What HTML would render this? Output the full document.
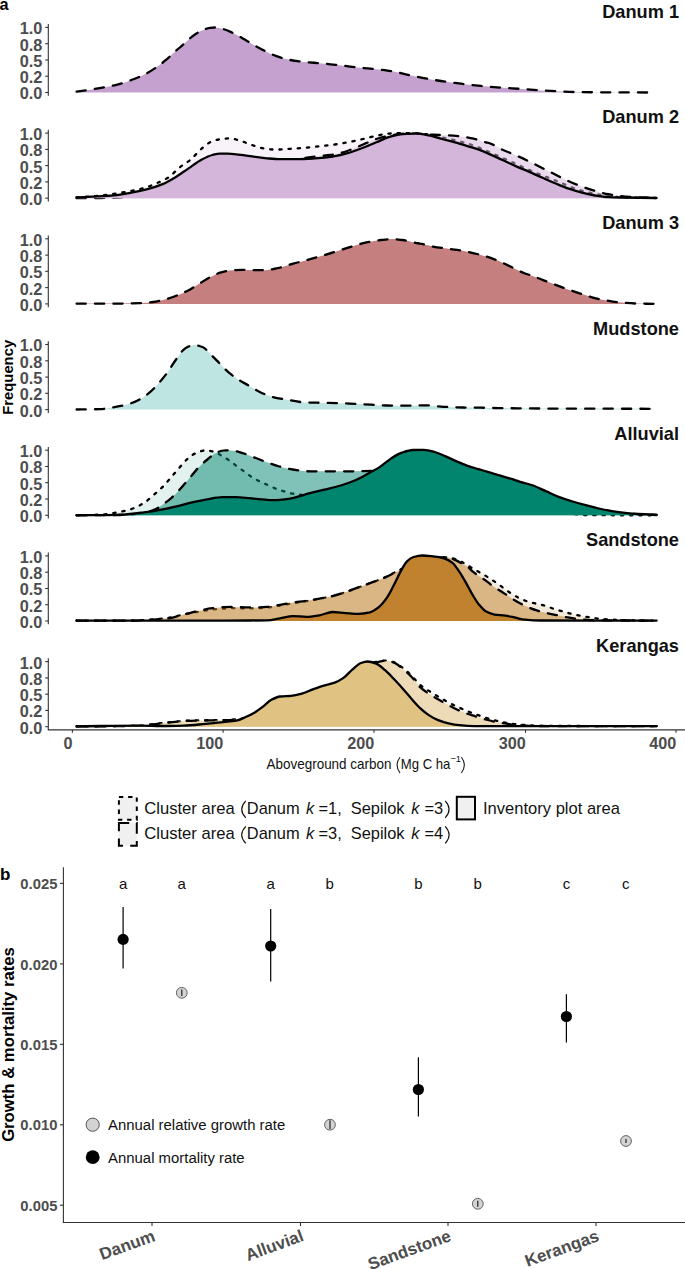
<!DOCTYPE html>
<html><head><meta charset="utf-8"><title>Figure</title><style>
*{margin:0;padding:0}
html,body{width:685px;height:1269px;background:#fff;overflow:hidden}
svg{display:block}
text{font-family:"Liberation Sans",sans-serif}
.yl{font-size:16.3px;font-weight:bold;fill:#4d4d4d;text-anchor:end}
.pt{font-size:18.2px;font-weight:bold;fill:#111;text-anchor:end}
.xl{font-size:16.2px;font-weight:bold;fill:#4d4d4d;text-anchor:end}
.xt{font-size:14.1px;fill:#111}
.sup{font-size:9.4px;fill:#111}
.ft{font-size:14.8px;font-weight:bold;fill:#000;text-anchor:middle}
.lab{font-size:17px;font-weight:bold;fill:#000}
.lg{font-size:16.4px;fill:#111}
.yb{font-size:14.8px;font-weight:bold;fill:#4d4d4d;text-anchor:end}
.gt{font-size:16.7px;font-weight:bold;fill:#000;text-anchor:middle}
.cx{font-size:17px;font-weight:bold;fill:#4d4d4d;text-anchor:end}
.le{font-size:15px;fill:#111;text-anchor:middle}
.lb{font-size:14.9px;fill:#111}
</style></head>
<body><svg width="685" height="1269" viewBox="0 0 685 1269">
<rect width="685" height="1269" fill="#fff"/>
<line x1="48.3" y1="24.1" x2="48.3" y2="95.8" stroke="#333" stroke-width="1.1"/>
<line x1="45.2" y1="92.5" x2="48.3" y2="92.5" stroke="#333" stroke-width="1.1"/>
<text x="42.3" y="99.4" class="yl">0.0</text>
<line x1="45.2" y1="76.2" x2="48.3" y2="76.2" stroke="#333" stroke-width="1.1"/>
<text x="42.3" y="83.1" class="yl">0.2</text>
<line x1="45.2" y1="60.0" x2="48.3" y2="60.0" stroke="#333" stroke-width="1.1"/>
<text x="42.3" y="66.9" class="yl">0.5</text>
<line x1="45.2" y1="43.7" x2="48.3" y2="43.7" stroke="#333" stroke-width="1.1"/>
<text x="42.3" y="50.6" class="yl">0.8</text>
<line x1="45.2" y1="27.4" x2="48.3" y2="27.4" stroke="#333" stroke-width="1.1"/>
<text x="42.3" y="34.3" class="yl">1.0</text>
<text x="679" y="17.5" class="pt">Danum 1</text>
<path d="M76.6 91.6C81.7 90.9 86.8 90.2 91.9 89.4C96.3 88.7 100.6 88.0 105.0 87.2C109.4 86.4 113.8 85.5 118.2 84.4C122.6 83.3 126.9 81.6 131.3 80.0C135.7 78.4 140.0 76.7 144.4 74.6C148.1 72.8 151.7 70.5 155.4 68.0C159.0 65.6 162.7 62.7 166.3 59.7C169.2 57.2 172.2 54.2 175.1 51.6C178.0 49.0 181.0 46.5 183.9 43.9C186.8 41.3 189.7 38.3 192.6 36.2C195.5 34.1 198.5 32.1 201.4 30.8C204.3 29.5 207.2 28.2 210.1 27.9C211.9 27.7 213.7 27.5 215.5 27.5C218.0 27.5 220.6 28.3 223.1 29.0C226.0 29.8 229.0 31.2 231.9 32.5C235.5 34.2 239.2 36.3 242.8 38.4C246.5 40.5 250.1 42.9 253.8 45.0C257.4 47.1 261.1 49.1 264.7 50.9C268.4 52.7 272.0 54.6 275.7 55.9C279.3 57.2 283.0 58.4 286.6 59.2C290.3 60.0 293.9 60.7 297.6 61.2C301.2 61.7 304.9 62.0 308.5 62.3C312.2 62.6 315.8 62.9 319.5 63.2C323.1 63.5 326.8 63.9 330.4 64.3C334.1 64.7 337.7 65.0 341.4 65.4C345.0 65.8 348.7 66.5 352.3 66.9C357.4 67.5 362.4 67.9 367.5 68.4C373.3 69.0 379.2 69.5 385.0 70.2C387.9 70.6 390.9 71.0 393.8 71.5C398.2 72.3 402.5 73.6 406.9 74.6C412.0 75.7 417.2 76.8 422.3 77.8C427.4 78.8 432.5 79.7 437.6 80.5C443.4 81.4 449.3 82.1 455.1 82.9C460.9 83.7 466.8 84.5 472.6 85.1C478.4 85.7 484.3 86.3 490.1 86.8C497.4 87.4 504.6 87.8 511.9 88.3C519.2 88.8 526.5 89.4 533.8 89.9C541.1 90.4 548.4 90.8 555.7 91.2C563.0 91.6 570.3 92.0 577.6 92.1C584.9 92.2 592.2 92.3 599.5 92.3C616.0 92.4 632.5 92.4 649.0 92.5L649.0 92.5L76.6 92.5Z" fill="#c4a1cf"/>
<path d="M76.6 91.6C81.7 90.9 86.8 90.2 91.9 89.4C96.3 88.7 100.6 88.0 105.0 87.2C109.4 86.4 113.8 85.5 118.2 84.4C122.6 83.3 126.9 81.6 131.3 80.0C135.7 78.4 140.0 76.7 144.4 74.6C148.1 72.8 151.7 70.5 155.4 68.0C159.0 65.6 162.7 62.7 166.3 59.7C169.2 57.2 172.2 54.2 175.1 51.6C178.0 49.0 181.0 46.5 183.9 43.9C186.8 41.3 189.7 38.3 192.6 36.2C195.5 34.1 198.5 32.1 201.4 30.8C204.3 29.5 207.2 28.2 210.1 27.9C211.9 27.7 213.7 27.5 215.5 27.5C218.0 27.5 220.6 28.3 223.1 29.0C226.0 29.8 229.0 31.2 231.9 32.5C235.5 34.2 239.2 36.3 242.8 38.4C246.5 40.5 250.1 42.9 253.8 45.0C257.4 47.1 261.1 49.1 264.7 50.9C268.4 52.7 272.0 54.6 275.7 55.9C279.3 57.2 283.0 58.4 286.6 59.2C290.3 60.0 293.9 60.7 297.6 61.2C301.2 61.7 304.9 62.0 308.5 62.3C312.2 62.6 315.8 62.9 319.5 63.2C323.1 63.5 326.8 63.9 330.4 64.3C334.1 64.7 337.7 65.0 341.4 65.4C345.0 65.8 348.7 66.5 352.3 66.9C357.4 67.5 362.4 67.9 367.5 68.4C373.3 69.0 379.2 69.5 385.0 70.2C387.9 70.6 390.9 71.0 393.8 71.5C398.2 72.3 402.5 73.6 406.9 74.6C412.0 75.7 417.2 76.8 422.3 77.8C427.4 78.8 432.5 79.7 437.6 80.5C443.4 81.4 449.3 82.1 455.1 82.9C460.9 83.7 466.8 84.5 472.6 85.1C478.4 85.7 484.3 86.3 490.1 86.8C497.4 87.4 504.6 87.8 511.9 88.3C519.2 88.8 526.5 89.4 533.8 89.9C541.1 90.4 548.4 90.8 555.7 91.2C563.0 91.6 570.3 92.0 577.6 92.1C584.9 92.2 592.2 92.3 599.5 92.3C616.0 92.4 632.5 92.4 649.0 92.5" fill="none" stroke="#000" stroke-width="2.3" stroke-linejoin="round" stroke-dasharray="9.2 9.2" stroke-linecap="round"/>
<line x1="48.3" y1="129.8" x2="48.3" y2="201.5" stroke="#333" stroke-width="1.1"/>
<line x1="45.2" y1="198.2" x2="48.3" y2="198.2" stroke="#333" stroke-width="1.1"/>
<text x="42.3" y="205.1" class="yl">0.0</text>
<line x1="45.2" y1="181.9" x2="48.3" y2="181.9" stroke="#333" stroke-width="1.1"/>
<text x="42.3" y="188.8" class="yl">0.2</text>
<line x1="45.2" y1="165.6" x2="48.3" y2="165.6" stroke="#333" stroke-width="1.1"/>
<text x="42.3" y="172.5" class="yl">0.5</text>
<line x1="45.2" y1="149.4" x2="48.3" y2="149.4" stroke="#333" stroke-width="1.1"/>
<text x="42.3" y="156.3" class="yl">0.8</text>
<line x1="45.2" y1="133.1" x2="48.3" y2="133.1" stroke="#333" stroke-width="1.1"/>
<text x="42.3" y="140.0" class="yl">1.0</text>
<text x="679" y="123.2" class="pt">Danum 2</text>
<path d="M76.6 197.5C81.7 197.1 86.8 196.9 91.9 196.4C99.2 195.8 106.5 194.8 113.8 193.8C119.6 193.0 125.5 192.0 131.3 190.9C135.7 190.1 140.0 189.2 144.4 187.9C148.8 186.6 153.2 184.7 157.6 182.8C161.2 181.2 164.9 179.7 168.5 177.4C172.2 175.1 175.8 170.4 179.5 167.5C183.1 164.6 186.8 162.8 190.4 159.8C194.1 156.8 197.7 152.0 201.4 148.9C204.3 146.4 207.2 143.6 210.1 142.3C213.0 141.0 215.9 140.0 218.8 139.5C222.1 139.0 225.3 138.4 228.6 138.4C231.9 138.4 235.2 139.3 238.5 140.1C242.1 140.9 245.8 142.9 249.4 144.1C253.8 145.6 258.2 147.5 262.6 148.2C267.0 148.9 271.3 149.6 275.7 149.6C280.1 149.6 284.4 149.2 288.8 148.9C293.9 148.6 299.1 148.2 304.2 147.8C309.3 147.4 314.4 146.8 319.5 146.3C324.6 145.8 329.7 145.2 334.8 144.5C339.2 143.9 343.6 143.1 348.0 142.3C353.0 141.4 358.1 140.2 363.1 139.0C367.5 138.0 371.9 136.7 376.3 135.8C380.7 134.9 385.0 133.9 389.4 133.6C393.1 133.3 396.7 133.1 400.4 133.1C405.3 133.1 410.1 133.2 415.0 133.3C420.0 133.4 425.0 134.1 430.0 134.8C435.0 135.5 440.0 136.9 445.0 138.0C450.0 139.1 455.0 140.2 460.0 141.5C465.0 142.8 470.0 144.2 475.0 146.0C480.0 147.8 485.1 150.2 490.1 152.4C497.4 155.5 504.6 158.8 511.9 162.0C519.2 165.3 526.5 168.8 533.8 171.9C541.1 175.0 548.4 177.7 555.7 180.6C563.0 183.5 570.3 187.2 577.6 189.4C583.4 191.2 589.3 192.7 595.1 193.8C600.9 194.9 606.8 196.1 612.6 196.6C618.4 197.1 624.2 197.5 630.0 197.6C638.9 197.8 647.7 197.9 656.6 198.0L656.6 198.2L76.6 198.2Z" fill="#d4b6db" fill-opacity="0.17"/>
<path d="M76.6 197.5C81.7 197.1 86.8 196.9 91.9 196.4C99.2 195.8 106.5 194.8 113.8 193.8C119.6 193.0 125.5 192.0 131.3 190.9C135.7 190.1 140.0 189.2 144.4 187.9C148.8 186.6 153.2 184.7 157.6 182.8C161.2 181.2 164.9 179.7 168.5 177.4C172.2 175.1 175.8 170.4 179.5 167.5C183.1 164.6 186.8 162.8 190.4 159.8C194.1 156.8 197.7 152.0 201.4 148.9C204.3 146.4 207.2 143.6 210.1 142.3C213.0 141.0 215.9 140.0 218.8 139.5C222.1 139.0 225.3 138.4 228.6 138.4C231.9 138.4 235.2 139.3 238.5 140.1C242.1 140.9 245.8 142.9 249.4 144.1C253.8 145.6 258.2 147.5 262.6 148.2C267.0 148.9 271.3 149.6 275.7 149.6C280.1 149.6 284.4 149.2 288.8 148.9C293.9 148.6 299.1 148.2 304.2 147.8C309.3 147.4 314.4 146.8 319.5 146.3C324.6 145.8 329.7 145.2 334.8 144.5C339.2 143.9 343.6 143.1 348.0 142.3C353.0 141.4 358.1 140.2 363.1 139.0C367.5 138.0 371.9 136.7 376.3 135.8C380.7 134.9 385.0 133.9 389.4 133.6C393.1 133.3 396.7 133.1 400.4 133.1C405.3 133.1 410.1 133.2 415.0 133.3C420.0 133.4 425.0 134.1 430.0 134.8C435.0 135.5 440.0 136.9 445.0 138.0C450.0 139.1 455.0 140.2 460.0 141.5C465.0 142.8 470.0 144.2 475.0 146.0C480.0 147.8 485.1 150.2 490.1 152.4C497.4 155.5 504.6 158.8 511.9 162.0C519.2 165.3 526.5 168.8 533.8 171.9C541.1 175.0 548.4 177.7 555.7 180.6C563.0 183.5 570.3 187.2 577.6 189.4C583.4 191.2 589.3 192.7 595.1 193.8C600.9 194.9 606.8 196.1 612.6 196.6C618.4 197.1 624.2 197.5 630.0 197.6C638.9 197.8 647.7 197.9 656.6 198.0" fill="none" stroke="#000" stroke-width="2.3" stroke-linejoin="round" stroke-dasharray="2.3 6.9" stroke-linecap="round"/>
<path d="M76.6 198.2C84.4 198.1 92.2 198.1 100.0 198.0C106.7 197.9 113.3 197.7 120.0 197.3C124.5 197.1 129.0 196.7 133.5 196.0C137.9 195.3 142.2 192.9 146.6 191.4C151.7 189.7 156.9 188.5 162.0 186.4C166.4 184.6 170.7 182.0 175.1 179.4C179.5 176.8 183.8 173.5 188.2 170.6C192.6 167.7 197.0 164.1 201.4 161.8C205.0 159.9 208.7 157.5 212.3 157.0C217.4 156.2 222.4 155.7 227.5 155.7C231.2 155.7 234.8 156.2 238.5 156.6C243.6 157.1 248.7 157.9 253.8 158.6C258.2 159.2 262.5 160.0 266.9 160.3C271.3 160.6 275.7 161.0 280.1 161.0C284.5 161.0 288.8 160.1 293.2 159.6C296.1 159.2 299.1 158.7 302.0 158.3C306.4 157.7 310.7 157.1 315.1 156.6C320.2 156.0 325.3 155.7 330.4 155.0C334.1 154.5 337.7 153.7 341.4 152.8C344.3 152.1 347.1 151.0 350.0 150.0C354.4 148.4 358.7 146.3 363.1 144.5C367.5 142.7 371.9 140.4 376.3 139.0C380.7 137.7 385.0 136.6 389.4 135.8C393.8 135.0 398.2 134.2 402.6 134.0C407.0 133.8 411.3 133.6 415.7 133.6C421.5 133.6 427.4 134.4 433.2 134.7C437.6 134.9 441.9 135.1 446.3 135.3C450.7 135.5 455.1 135.8 459.5 136.2C463.9 136.6 468.2 137.5 472.6 138.4C477.0 139.3 481.4 141.1 485.8 142.3C487.2 142.7 488.6 142.9 490.0 143.4C494.4 144.8 498.7 148.0 503.1 150.0C507.5 152.0 511.9 153.6 516.3 155.5C520.7 157.4 525.0 159.5 529.4 161.6C533.8 163.7 538.2 166.0 542.6 168.2C547.0 170.4 551.3 172.5 555.7 174.7C560.1 176.9 564.4 179.3 568.8 181.3C573.2 183.3 577.6 185.0 582.0 186.6C586.4 188.2 590.7 189.7 595.1 190.9C599.5 192.1 603.8 193.4 608.2 194.2C612.6 195.0 617.0 195.8 621.4 196.2C627.6 196.8 633.8 197.2 640.0 197.5C645.5 197.7 651.1 197.8 656.6 198.0L656.6 198.2L76.6 198.2Z" fill="#d4b6db" fill-opacity="0.50"/>
<path d="M76.6 198.2C84.4 198.1 92.2 198.1 100.0 198.0C106.7 197.9 113.3 197.7 120.0 197.3C124.5 197.1 129.0 196.7 133.5 196.0C137.9 195.3 142.2 192.9 146.6 191.4C151.7 189.7 156.9 188.5 162.0 186.4C166.4 184.6 170.7 182.0 175.1 179.4C179.5 176.8 183.8 173.5 188.2 170.6C192.6 167.7 197.0 164.1 201.4 161.8C205.0 159.9 208.7 157.5 212.3 157.0C217.4 156.2 222.4 155.7 227.5 155.7C231.2 155.7 234.8 156.2 238.5 156.6C243.6 157.1 248.7 157.9 253.8 158.6C258.2 159.2 262.5 160.0 266.9 160.3C271.3 160.6 275.7 161.0 280.1 161.0C284.5 161.0 288.8 160.1 293.2 159.6C296.1 159.2 299.1 158.7 302.0 158.3C306.4 157.7 310.7 157.1 315.1 156.6C320.2 156.0 325.3 155.7 330.4 155.0C334.1 154.5 337.7 153.7 341.4 152.8C344.3 152.1 347.1 151.0 350.0 150.0C354.4 148.4 358.7 146.3 363.1 144.5C367.5 142.7 371.9 140.4 376.3 139.0C380.7 137.7 385.0 136.6 389.4 135.8C393.8 135.0 398.2 134.2 402.6 134.0C407.0 133.8 411.3 133.6 415.7 133.6C421.5 133.6 427.4 134.4 433.2 134.7C437.6 134.9 441.9 135.1 446.3 135.3C450.7 135.5 455.1 135.8 459.5 136.2C463.9 136.6 468.2 137.5 472.6 138.4C477.0 139.3 481.4 141.1 485.8 142.3C487.2 142.7 488.6 142.9 490.0 143.4C494.4 144.8 498.7 148.0 503.1 150.0C507.5 152.0 511.9 153.6 516.3 155.5C520.7 157.4 525.0 159.5 529.4 161.6C533.8 163.7 538.2 166.0 542.6 168.2C547.0 170.4 551.3 172.5 555.7 174.7C560.1 176.9 564.4 179.3 568.8 181.3C573.2 183.3 577.6 185.0 582.0 186.6C586.4 188.2 590.7 189.7 595.1 190.9C599.5 192.1 603.8 193.4 608.2 194.2C612.6 195.0 617.0 195.8 621.4 196.2C627.6 196.8 633.8 197.2 640.0 197.5C645.5 197.7 651.1 197.8 656.6 198.0" fill="none" stroke="#000" stroke-width="2.3" stroke-linejoin="round" stroke-dasharray="9.2 9.2" stroke-linecap="round"/>
<path d="M76.6 197.5C81.7 197.2 86.8 196.9 91.9 196.6C99.2 196.2 106.5 195.9 113.8 195.3C119.6 194.8 125.5 193.7 131.3 192.7C136.4 191.8 141.5 190.7 146.6 189.4C151.7 188.1 156.9 186.5 162.0 184.4C166.4 182.6 170.7 180.0 175.1 177.4C179.5 174.8 183.8 171.5 188.2 168.6C192.6 165.7 197.0 162.1 201.4 159.8C205.0 157.9 208.7 155.9 212.3 155.0C214.9 154.4 217.4 153.7 220.0 153.7C222.5 153.7 225.0 153.7 227.5 153.7C231.2 153.7 234.8 154.2 238.5 154.6C243.6 155.1 248.7 155.9 253.8 156.6C258.2 157.2 262.5 157.9 266.9 158.3C271.3 158.7 275.7 159.2 280.1 159.2C285.9 159.2 291.8 159.2 297.6 159.2C303.4 159.2 309.3 158.7 315.1 158.3C320.9 157.9 326.8 157.4 332.6 156.6C337.0 156.0 341.4 154.8 345.8 153.7C347.2 153.3 348.6 152.9 350.0 152.5C354.4 151.1 358.7 149.5 363.1 147.8C367.5 146.1 371.9 144.1 376.3 142.3C380.7 140.5 385.0 138.2 389.4 136.9C393.8 135.6 398.2 134.2 402.6 134.0C407.0 133.8 411.3 133.6 415.7 133.6C420.1 133.6 424.4 134.5 428.8 135.3C433.2 136.1 437.6 137.8 442.0 139.0C446.4 140.2 450.7 141.1 455.1 142.3C459.5 143.5 463.8 144.9 468.2 146.3C472.6 147.7 477.0 148.9 481.4 150.6C484.3 151.7 487.1 153.1 490.0 154.4C494.4 156.3 498.7 158.3 503.1 160.3C507.5 162.3 511.9 164.5 516.3 166.4C520.7 168.3 525.0 170.0 529.4 171.9C533.8 173.8 538.2 175.9 542.6 177.8C547.0 179.7 551.3 181.7 555.7 183.5C560.1 185.3 564.4 187.2 568.8 188.7C573.2 190.2 577.6 191.6 582.0 192.7C586.4 193.8 590.7 194.8 595.1 195.5C599.5 196.2 603.8 196.9 608.2 197.1C612.6 197.3 617.0 197.4 621.4 197.5C633.1 197.7 644.9 197.8 656.6 198.0L656.6 198.2L76.6 198.2Z" fill="#d4b6db"/>
<path d="M76.6 197.5C81.7 197.2 86.8 196.9 91.9 196.6C99.2 196.2 106.5 195.9 113.8 195.3C119.6 194.8 125.5 193.7 131.3 192.7C136.4 191.8 141.5 190.7 146.6 189.4C151.7 188.1 156.9 186.5 162.0 184.4C166.4 182.6 170.7 180.0 175.1 177.4C179.5 174.8 183.8 171.5 188.2 168.6C192.6 165.7 197.0 162.1 201.4 159.8C205.0 157.9 208.7 155.9 212.3 155.0C214.9 154.4 217.4 153.7 220.0 153.7C222.5 153.7 225.0 153.7 227.5 153.7C231.2 153.7 234.8 154.2 238.5 154.6C243.6 155.1 248.7 155.9 253.8 156.6C258.2 157.2 262.5 157.9 266.9 158.3C271.3 158.7 275.7 159.2 280.1 159.2C285.9 159.2 291.8 159.2 297.6 159.2C303.4 159.2 309.3 158.7 315.1 158.3C320.9 157.9 326.8 157.4 332.6 156.6C337.0 156.0 341.4 154.8 345.8 153.7C347.2 153.3 348.6 152.9 350.0 152.5C354.4 151.1 358.7 149.5 363.1 147.8C367.5 146.1 371.9 144.1 376.3 142.3C380.7 140.5 385.0 138.2 389.4 136.9C393.8 135.6 398.2 134.2 402.6 134.0C407.0 133.8 411.3 133.6 415.7 133.6C420.1 133.6 424.4 134.5 428.8 135.3C433.2 136.1 437.6 137.8 442.0 139.0C446.4 140.2 450.7 141.1 455.1 142.3C459.5 143.5 463.8 144.9 468.2 146.3C472.6 147.7 477.0 148.9 481.4 150.6C484.3 151.7 487.1 153.1 490.0 154.4C494.4 156.3 498.7 158.3 503.1 160.3C507.5 162.3 511.9 164.5 516.3 166.4C520.7 168.3 525.0 170.0 529.4 171.9C533.8 173.8 538.2 175.9 542.6 177.8C547.0 179.7 551.3 181.7 555.7 183.5C560.1 185.3 564.4 187.2 568.8 188.7C573.2 190.2 577.6 191.6 582.0 192.7C586.4 193.8 590.7 194.8 595.1 195.5C599.5 196.2 603.8 196.9 608.2 197.1C612.6 197.3 617.0 197.4 621.4 197.5C633.1 197.7 644.9 197.8 656.6 198.0" fill="none" stroke="#000" stroke-width="2.3" stroke-linejoin="round" stroke-linecap="round"/>
<line x1="48.3" y1="235.5" x2="48.3" y2="307.2" stroke="#333" stroke-width="1.1"/>
<line x1="45.2" y1="303.9" x2="48.3" y2="303.9" stroke="#333" stroke-width="1.1"/>
<text x="42.3" y="310.8" class="yl">0.0</text>
<line x1="45.2" y1="287.6" x2="48.3" y2="287.6" stroke="#333" stroke-width="1.1"/>
<text x="42.3" y="294.5" class="yl">0.2</text>
<line x1="45.2" y1="271.3" x2="48.3" y2="271.3" stroke="#333" stroke-width="1.1"/>
<text x="42.3" y="278.2" class="yl">0.5</text>
<line x1="45.2" y1="255.1" x2="48.3" y2="255.1" stroke="#333" stroke-width="1.1"/>
<text x="42.3" y="262.0" class="yl">0.8</text>
<line x1="45.2" y1="238.8" x2="48.3" y2="238.8" stroke="#333" stroke-width="1.1"/>
<text x="42.3" y="245.7" class="yl">1.0</text>
<text x="679" y="228.9" class="pt">Danum 3</text>
<path d="M76.6 303.7C91.1 303.7 105.5 303.7 120.0 303.6C126.7 303.6 133.3 303.4 140.0 303.1C144.4 302.9 148.7 302.5 153.1 302.0C157.5 301.5 161.9 300.3 166.3 299.1C169.9 298.1 173.6 296.8 177.2 295.4C180.9 294.0 184.5 292.3 188.2 290.4C191.8 288.5 195.5 286.0 199.1 283.8C202.8 281.6 206.4 279.1 210.1 277.2C213.7 275.4 217.4 273.4 221.0 272.4C224.7 271.4 228.3 270.4 232.0 270.2C235.6 270.0 239.3 269.8 242.9 269.8C246.6 269.8 250.2 270.2 253.9 270.2C257.5 270.2 261.2 270.2 264.8 270.2C268.5 270.2 272.1 269.2 275.8 268.5C277.2 268.2 278.6 267.9 280.0 267.6C284.4 266.5 288.7 264.9 293.1 263.7C298.2 262.3 303.4 261.1 308.5 259.7C313.6 258.3 318.7 256.8 323.8 255.3C328.9 253.8 334.0 252.1 339.1 250.5C344.2 248.9 349.3 247.2 354.4 245.7C358.8 244.4 363.2 243.1 367.6 242.2C372.0 241.3 376.3 240.5 380.7 240.0C384.4 239.6 388.0 239.1 391.7 239.1C395.3 239.1 399.0 239.6 402.6 240.0C407.0 240.5 411.4 242.1 415.8 242.9C417.2 243.2 418.6 243.3 420.0 243.6C424.4 244.4 428.7 245.8 433.1 246.6C438.2 247.5 443.4 248.1 448.5 248.8C453.6 249.5 458.7 250.1 463.8 251.0C468.9 251.9 474.0 253.2 479.1 254.5C484.2 255.8 489.3 257.4 494.4 259.3C499.5 261.2 504.7 263.9 509.8 266.3C514.9 268.7 520.0 271.7 525.1 273.5C526.7 274.1 528.4 274.5 530.0 275.0C534.4 276.5 538.7 278.4 543.1 280.1C547.5 281.8 551.9 283.5 556.3 285.1C560.7 286.7 565.0 288.4 569.4 289.9C573.8 291.4 578.2 292.9 582.6 294.3C587.0 295.7 591.3 297.2 595.7 298.3C600.1 299.4 604.4 300.2 608.8 300.9C613.2 301.6 617.6 302.2 622.0 302.6C626.4 303.0 630.7 303.4 635.1 303.5C642.3 303.7 649.4 303.8 656.6 303.9L656.6 303.9L76.6 303.9Z" fill="#c67f7f"/>
<path d="M76.6 303.7C91.1 303.7 105.5 303.7 120.0 303.6C126.7 303.6 133.3 303.4 140.0 303.1C144.4 302.9 148.7 302.5 153.1 302.0C157.5 301.5 161.9 300.3 166.3 299.1C169.9 298.1 173.6 296.8 177.2 295.4C180.9 294.0 184.5 292.3 188.2 290.4C191.8 288.5 195.5 286.0 199.1 283.8C202.8 281.6 206.4 279.1 210.1 277.2C213.7 275.4 217.4 273.4 221.0 272.4C224.7 271.4 228.3 270.4 232.0 270.2C235.6 270.0 239.3 269.8 242.9 269.8C246.6 269.8 250.2 270.2 253.9 270.2C257.5 270.2 261.2 270.2 264.8 270.2C268.5 270.2 272.1 269.2 275.8 268.5C277.2 268.2 278.6 267.9 280.0 267.6C284.4 266.5 288.7 264.9 293.1 263.7C298.2 262.3 303.4 261.1 308.5 259.7C313.6 258.3 318.7 256.8 323.8 255.3C328.9 253.8 334.0 252.1 339.1 250.5C344.2 248.9 349.3 247.2 354.4 245.7C358.8 244.4 363.2 243.1 367.6 242.2C372.0 241.3 376.3 240.5 380.7 240.0C384.4 239.6 388.0 239.1 391.7 239.1C395.3 239.1 399.0 239.6 402.6 240.0C407.0 240.5 411.4 242.1 415.8 242.9C417.2 243.2 418.6 243.3 420.0 243.6C424.4 244.4 428.7 245.8 433.1 246.6C438.2 247.5 443.4 248.1 448.5 248.8C453.6 249.5 458.7 250.1 463.8 251.0C468.9 251.9 474.0 253.2 479.1 254.5C484.2 255.8 489.3 257.4 494.4 259.3C499.5 261.2 504.7 263.9 509.8 266.3C514.9 268.7 520.0 271.7 525.1 273.5C526.7 274.1 528.4 274.5 530.0 275.0C534.4 276.5 538.7 278.4 543.1 280.1C547.5 281.8 551.9 283.5 556.3 285.1C560.7 286.7 565.0 288.4 569.4 289.9C573.8 291.4 578.2 292.9 582.6 294.3C587.0 295.7 591.3 297.2 595.7 298.3C600.1 299.4 604.4 300.2 608.8 300.9C613.2 301.6 617.6 302.2 622.0 302.6C626.4 303.0 630.7 303.4 635.1 303.5C642.3 303.7 649.4 303.8 656.6 303.9" fill="none" stroke="#000" stroke-width="2.3" stroke-linejoin="round" stroke-dasharray="9.2 9.2" stroke-linecap="round"/>
<line x1="48.3" y1="341.2" x2="48.3" y2="412.9" stroke="#333" stroke-width="1.1"/>
<line x1="45.2" y1="409.6" x2="48.3" y2="409.6" stroke="#333" stroke-width="1.1"/>
<text x="42.3" y="416.5" class="yl">0.0</text>
<line x1="45.2" y1="393.3" x2="48.3" y2="393.3" stroke="#333" stroke-width="1.1"/>
<text x="42.3" y="400.2" class="yl">0.2</text>
<line x1="45.2" y1="377.1" x2="48.3" y2="377.1" stroke="#333" stroke-width="1.1"/>
<text x="42.3" y="383.9" class="yl">0.5</text>
<line x1="45.2" y1="360.8" x2="48.3" y2="360.8" stroke="#333" stroke-width="1.1"/>
<text x="42.3" y="367.7" class="yl">0.8</text>
<line x1="45.2" y1="344.5" x2="48.3" y2="344.5" stroke="#333" stroke-width="1.1"/>
<text x="42.3" y="351.4" class="yl">1.0</text>
<text x="679" y="334.6" class="pt">Mudstone</text>
<path d="M76.6 409.5C84.4 409.4 92.2 409.4 100.0 409.1C104.4 409.0 108.7 408.0 113.1 407.3C117.5 406.6 121.9 405.8 126.3 404.7C129.9 403.8 133.6 402.4 137.2 400.7C140.9 399.0 144.5 396.6 148.2 393.7C151.8 390.9 155.5 386.9 159.1 382.8C162.0 379.5 165.0 375.8 167.9 371.8C170.8 367.8 173.7 362.6 176.6 358.7C179.5 354.8 182.5 349.8 185.4 348.2C188.3 346.6 191.3 345.1 194.2 345.1C197.1 345.1 200.0 346.2 202.9 347.3C205.8 348.5 208.8 352.6 211.7 355.4C214.6 358.2 217.5 361.3 220.4 364.2C223.3 367.1 226.3 370.5 229.2 372.9C232.8 375.9 236.5 378.3 240.1 380.6C243.0 382.4 245.9 383.9 248.8 385.6C252.4 387.7 256.1 390.3 259.7 392.0C264.1 394.0 268.4 395.9 272.8 397.0C277.9 398.3 283.1 399.0 288.2 399.9C294.0 400.9 299.9 402.3 305.7 402.5C313.0 402.7 320.3 402.7 327.6 402.9C334.9 403.1 342.2 403.3 349.5 403.6C356.8 403.9 364.1 404.3 371.4 404.7C376.5 405.0 381.5 405.4 386.6 405.5C393.2 405.6 399.7 405.7 406.3 405.7C412.9 405.7 419.4 405.3 426.0 405.3C431.8 405.3 437.7 406.5 443.5 406.8C450.1 407.1 456.6 407.4 463.2 407.5C469.0 407.6 474.9 407.6 480.7 407.7C486.5 407.8 492.4 408.0 498.2 408.1C504.8 408.2 511.3 408.2 517.9 408.3C531.9 408.4 546.0 408.6 560.0 408.6C591.0 408.7 622.0 408.7 653.0 408.8L653.0 409.6L76.6 409.6Z" fill="#bfe5e2"/>
<path d="M76.6 409.5C84.4 409.4 92.2 409.4 100.0 409.1C104.4 409.0 108.7 408.0 113.1 407.3C117.5 406.6 121.9 405.8 126.3 404.7C129.9 403.8 133.6 402.4 137.2 400.7C140.9 399.0 144.5 396.6 148.2 393.7C151.8 390.9 155.5 386.9 159.1 382.8C162.0 379.5 165.0 375.8 167.9 371.8C170.8 367.8 173.7 362.6 176.6 358.7C179.5 354.8 182.5 349.8 185.4 348.2C188.3 346.6 191.3 345.1 194.2 345.1C197.1 345.1 200.0 346.2 202.9 347.3C205.8 348.5 208.8 352.6 211.7 355.4C214.6 358.2 217.5 361.3 220.4 364.2C223.3 367.1 226.3 370.5 229.2 372.9C232.8 375.9 236.5 378.3 240.1 380.6C243.0 382.4 245.9 383.9 248.8 385.6C252.4 387.7 256.1 390.3 259.7 392.0C264.1 394.0 268.4 395.9 272.8 397.0C277.9 398.3 283.1 399.0 288.2 399.9C294.0 400.9 299.9 402.3 305.7 402.5C313.0 402.7 320.3 402.7 327.6 402.9C334.9 403.1 342.2 403.3 349.5 403.6C356.8 403.9 364.1 404.3 371.4 404.7C376.5 405.0 381.5 405.4 386.6 405.5C393.2 405.6 399.7 405.7 406.3 405.7C412.9 405.7 419.4 405.3 426.0 405.3C431.8 405.3 437.7 406.5 443.5 406.8C450.1 407.1 456.6 407.4 463.2 407.5C469.0 407.6 474.9 407.6 480.7 407.7C486.5 407.8 492.4 408.0 498.2 408.1C504.8 408.2 511.3 408.2 517.9 408.3C531.9 408.4 546.0 408.6 560.0 408.6C591.0 408.7 622.0 408.7 653.0 408.8" fill="none" stroke="#000" stroke-width="2.3" stroke-linejoin="round" stroke-dasharray="9.2 9.2" stroke-linecap="round"/>
<line x1="48.3" y1="446.9" x2="48.3" y2="518.6" stroke="#333" stroke-width="1.1"/>
<line x1="45.2" y1="515.3" x2="48.3" y2="515.3" stroke="#333" stroke-width="1.1"/>
<text x="42.3" y="522.2" class="yl">0.0</text>
<line x1="45.2" y1="499.0" x2="48.3" y2="499.0" stroke="#333" stroke-width="1.1"/>
<text x="42.3" y="505.9" class="yl">0.2</text>
<line x1="45.2" y1="482.7" x2="48.3" y2="482.7" stroke="#333" stroke-width="1.1"/>
<text x="42.3" y="489.6" class="yl">0.5</text>
<line x1="45.2" y1="466.5" x2="48.3" y2="466.5" stroke="#333" stroke-width="1.1"/>
<text x="42.3" y="473.4" class="yl">0.8</text>
<line x1="45.2" y1="450.2" x2="48.3" y2="450.2" stroke="#333" stroke-width="1.1"/>
<text x="42.3" y="457.1" class="yl">1.0</text>
<text x="679" y="440.3" class="pt">Alluvial</text>
<path d="M76.6 515.3C84.4 515.1 92.2 515.0 100.0 514.6C105.8 514.3 111.7 513.4 117.5 512.4C122.6 511.5 127.7 510.3 132.8 508.5C136.5 507.2 140.1 505.3 143.8 503.0C147.6 500.7 151.3 497.0 155.1 493.7C157.5 491.6 160.0 489.5 162.4 487.1C164.7 484.8 167.0 482.1 169.3 479.5C171.4 477.1 173.4 474.6 175.5 472.2C177.6 469.8 179.7 467.3 181.8 465.0C184.0 462.6 186.1 459.9 188.3 458.1C190.9 455.9 193.6 454.0 196.2 452.9C199.1 451.7 202.1 450.4 205.0 450.4C207.9 450.4 210.8 451.1 213.7 451.8C216.5 452.5 219.2 454.4 222.0 455.9C224.8 457.5 227.6 459.3 230.4 461.2C232.9 462.9 235.3 465.1 237.8 466.9C239.6 468.3 241.5 469.5 243.3 470.8C246.6 473.1 249.8 475.9 253.1 477.8C257.5 480.4 261.9 482.4 266.3 484.4C270.7 486.4 275.0 488.5 279.4 489.9C285.2 491.8 291.1 493.6 296.9 494.3C304.6 495.2 312.3 496.0 320.0 496.0C330.0 496.0 340.0 494.0 350.0 494.0C360.0 494.0 370.0 494.0 380.0 494.0C393.3 494.0 406.7 496.7 420.0 498.0C436.7 499.7 453.3 501.3 470.0 503.0C486.7 504.7 503.3 506.3 520.0 508.0C533.3 509.3 546.7 510.5 560.0 512.0C568.6 512.9 577.1 515.0 585.7 515.1C609.3 515.3 633.0 515.2 656.6 515.3L656.6 515.3L76.6 515.3Z" fill="#01856f" fill-opacity="0.11"/>
<path d="M76.6 515.3C84.4 515.1 92.2 515.0 100.0 514.6C105.8 514.3 111.7 513.4 117.5 512.4C122.6 511.5 127.7 510.3 132.8 508.5C136.5 507.2 140.1 505.3 143.8 503.0C147.6 500.7 151.3 497.0 155.1 493.7C157.5 491.6 160.0 489.5 162.4 487.1C164.7 484.8 167.0 482.1 169.3 479.5C171.4 477.1 173.4 474.6 175.5 472.2C177.6 469.8 179.7 467.3 181.8 465.0C184.0 462.6 186.1 459.9 188.3 458.1C190.9 455.9 193.6 454.0 196.2 452.9C199.1 451.7 202.1 450.4 205.0 450.4C207.9 450.4 210.8 451.1 213.7 451.8C216.5 452.5 219.2 454.4 222.0 455.9C224.8 457.5 227.6 459.3 230.4 461.2C232.9 462.9 235.3 465.1 237.8 466.9C239.6 468.3 241.5 469.5 243.3 470.8C246.6 473.1 249.8 475.9 253.1 477.8C257.5 480.4 261.9 482.4 266.3 484.4C270.7 486.4 275.0 488.5 279.4 489.9C285.2 491.8 291.1 493.6 296.9 494.3C304.6 495.2 312.3 496.0 320.0 496.0C330.0 496.0 340.0 494.0 350.0 494.0C360.0 494.0 370.0 494.0 380.0 494.0C393.3 494.0 406.7 496.7 420.0 498.0C436.7 499.7 453.3 501.3 470.0 503.0C486.7 504.7 503.3 506.3 520.0 508.0C533.3 509.3 546.7 510.5 560.0 512.0C568.6 512.9 577.1 515.0 585.7 515.1C609.3 515.3 633.0 515.2 656.6 515.3" fill="none" stroke="#000" stroke-width="2.3" stroke-linejoin="round" stroke-dasharray="2.3 6.9" stroke-linecap="round"/>
<path d="M76.6 515.3C91.1 515.2 105.5 515.2 120.0 515.0C127.9 514.9 135.9 514.1 143.8 512.9C147.4 512.4 151.1 511.1 154.7 509.6C158.4 508.1 162.0 505.0 165.7 502.4C167.5 501.1 169.4 499.7 171.2 498.1C175.1 494.7 178.9 490.3 182.8 486.0C186.0 482.5 189.1 478.6 192.3 474.8C194.0 472.7 195.8 470.4 197.5 468.6C201.0 464.9 204.5 461.9 208.0 459.0C210.9 456.6 213.9 453.5 216.8 452.4C219.4 451.4 222.1 450.5 224.7 450.4C226.1 450.3 227.6 450.3 229.0 450.3C230.5 450.3 231.9 450.5 233.4 450.7C235.2 450.9 236.9 451.4 238.7 451.8C243.5 453.0 248.3 455.2 253.1 457.0C257.5 458.6 261.9 460.5 266.3 462.1C270.7 463.7 275.0 465.3 279.4 466.5C283.8 467.7 288.2 468.9 292.6 469.5C298.4 470.3 304.3 471.3 310.1 471.3C317.4 471.3 324.7 471.3 332.0 471.3C339.3 471.3 346.6 471.3 353.9 471.3C359.7 471.3 365.6 471.0 371.4 470.8C380.9 470.4 390.5 468.0 400.0 468.0C410.0 468.0 420.0 469.0 430.0 470.0C443.3 471.4 456.7 476.7 470.0 480.0C486.7 484.1 503.3 487.8 520.0 492.0C536.7 496.2 553.3 501.7 570.0 505.0C586.7 508.3 603.3 511.6 620.0 513.0C632.2 514.0 644.4 514.5 656.6 515.2L656.6 515.3L76.6 515.3Z" fill="#01856f" fill-opacity="0.50"/>
<path d="M76.6 515.3C91.1 515.2 105.5 515.2 120.0 515.0C127.9 514.9 135.9 514.1 143.8 512.9C147.4 512.4 151.1 511.1 154.7 509.6C158.4 508.1 162.0 505.0 165.7 502.4C167.5 501.1 169.4 499.7 171.2 498.1C175.1 494.7 178.9 490.3 182.8 486.0C186.0 482.5 189.1 478.6 192.3 474.8C194.0 472.7 195.8 470.4 197.5 468.6C201.0 464.9 204.5 461.9 208.0 459.0C210.9 456.6 213.9 453.5 216.8 452.4C219.4 451.4 222.1 450.5 224.7 450.4C226.1 450.3 227.6 450.3 229.0 450.3C230.5 450.3 231.9 450.5 233.4 450.7C235.2 450.9 236.9 451.4 238.7 451.8C243.5 453.0 248.3 455.2 253.1 457.0C257.5 458.6 261.9 460.5 266.3 462.1C270.7 463.7 275.0 465.3 279.4 466.5C283.8 467.7 288.2 468.9 292.6 469.5C298.4 470.3 304.3 471.3 310.1 471.3C317.4 471.3 324.7 471.3 332.0 471.3C339.3 471.3 346.6 471.3 353.9 471.3C359.7 471.3 365.6 471.0 371.4 470.8C380.9 470.4 390.5 468.0 400.0 468.0C410.0 468.0 420.0 469.0 430.0 470.0C443.3 471.4 456.7 476.7 470.0 480.0C486.7 484.1 503.3 487.8 520.0 492.0C536.7 496.2 553.3 501.7 570.0 505.0C586.7 508.3 603.3 511.6 620.0 513.0C632.2 514.0 644.4 514.5 656.6 515.2" fill="none" stroke="#000" stroke-width="2.3" stroke-linejoin="round" stroke-dasharray="9.2 9.2" stroke-linecap="round"/>
<path d="M76.6 515.2C84.4 515.2 92.2 515.2 100.0 515.1C107.3 515.0 114.6 514.9 121.9 514.6C129.2 514.3 136.5 513.3 143.8 512.4C149.6 511.7 155.5 510.7 161.3 509.6C166.4 508.7 171.5 507.5 176.6 506.3C181.7 505.1 186.9 503.6 192.0 502.4C197.1 501.3 202.2 500.2 207.3 499.3C212.4 498.4 217.5 497.1 222.6 497.1C227.0 497.1 231.4 497.1 235.8 497.1C240.5 497.1 245.3 497.8 250.0 498.2C254.0 498.6 258.0 499.1 262.0 499.4C265.6 499.7 269.2 500.2 272.8 500.2C278.7 500.2 284.5 499.4 290.4 498.6C295.5 497.9 300.6 495.7 305.7 494.3C311.5 492.7 317.4 491.4 323.2 489.9C329.0 488.4 334.9 487.2 340.7 485.5C345.8 484.0 350.9 482.2 356.0 480.0C360.4 478.1 364.8 475.4 369.2 473.0C372.8 471.0 376.4 469.2 380.0 466.9C383.6 464.5 387.3 460.9 390.9 458.6C394.6 456.3 398.2 453.9 401.9 452.7C405.5 451.5 409.2 450.1 412.8 450.0C416.5 449.9 420.1 449.8 423.8 449.8C427.4 449.8 431.1 451.0 434.7 452.0C438.4 453.0 442.0 454.8 445.7 456.4C449.3 458.0 453.0 459.8 456.6 461.4C460.3 463.0 463.9 464.5 467.6 465.8C471.2 467.1 474.9 468.0 478.5 469.1C482.2 470.2 485.8 471.3 489.5 472.4C493.1 473.5 496.8 474.6 500.4 475.7C504.1 476.8 507.7 477.8 511.4 478.9C514.3 479.8 517.2 480.9 520.1 481.8C524.4 483.1 528.8 484.0 533.1 485.5C537.5 487.0 541.9 489.5 546.3 491.4C550.7 493.3 555.0 495.5 559.4 497.1C563.8 498.8 568.2 500.2 572.6 501.5C577.0 502.8 581.3 504.0 585.7 505.2C590.1 506.4 594.4 507.5 598.8 508.5C603.2 509.5 607.6 510.4 612.0 511.1C616.4 511.8 620.7 512.4 625.1 512.9C629.5 513.4 633.8 513.8 638.2 514.0C644.3 514.3 650.5 514.4 656.6 514.6L656.6 515.3L76.6 515.3Z" fill="#01856f"/>
<path d="M76.6 515.2C84.4 515.2 92.2 515.2 100.0 515.1C107.3 515.0 114.6 514.9 121.9 514.6C129.2 514.3 136.5 513.3 143.8 512.4C149.6 511.7 155.5 510.7 161.3 509.6C166.4 508.7 171.5 507.5 176.6 506.3C181.7 505.1 186.9 503.6 192.0 502.4C197.1 501.3 202.2 500.2 207.3 499.3C212.4 498.4 217.5 497.1 222.6 497.1C227.0 497.1 231.4 497.1 235.8 497.1C240.5 497.1 245.3 497.8 250.0 498.2C254.0 498.6 258.0 499.1 262.0 499.4C265.6 499.7 269.2 500.2 272.8 500.2C278.7 500.2 284.5 499.4 290.4 498.6C295.5 497.9 300.6 495.7 305.7 494.3C311.5 492.7 317.4 491.4 323.2 489.9C329.0 488.4 334.9 487.2 340.7 485.5C345.8 484.0 350.9 482.2 356.0 480.0C360.4 478.1 364.8 475.4 369.2 473.0C372.8 471.0 376.4 469.2 380.0 466.9C383.6 464.5 387.3 460.9 390.9 458.6C394.6 456.3 398.2 453.9 401.9 452.7C405.5 451.5 409.2 450.1 412.8 450.0C416.5 449.9 420.1 449.8 423.8 449.8C427.4 449.8 431.1 451.0 434.7 452.0C438.4 453.0 442.0 454.8 445.7 456.4C449.3 458.0 453.0 459.8 456.6 461.4C460.3 463.0 463.9 464.5 467.6 465.8C471.2 467.1 474.9 468.0 478.5 469.1C482.2 470.2 485.8 471.3 489.5 472.4C493.1 473.5 496.8 474.6 500.4 475.7C504.1 476.8 507.7 477.8 511.4 478.9C514.3 479.8 517.2 480.9 520.1 481.8C524.4 483.1 528.8 484.0 533.1 485.5C537.5 487.0 541.9 489.5 546.3 491.4C550.7 493.3 555.0 495.5 559.4 497.1C563.8 498.8 568.2 500.2 572.6 501.5C577.0 502.8 581.3 504.0 585.7 505.2C590.1 506.4 594.4 507.5 598.8 508.5C603.2 509.5 607.6 510.4 612.0 511.1C616.4 511.8 620.7 512.4 625.1 512.9C629.5 513.4 633.8 513.8 638.2 514.0C644.3 514.3 650.5 514.4 656.6 514.6" fill="none" stroke="#000" stroke-width="2.3" stroke-linejoin="round" stroke-linecap="round"/>
<line x1="48.3" y1="552.6" x2="48.3" y2="624.3" stroke="#333" stroke-width="1.1"/>
<line x1="45.2" y1="621.0" x2="48.3" y2="621.0" stroke="#333" stroke-width="1.1"/>
<text x="42.3" y="627.9" class="yl">0.0</text>
<line x1="45.2" y1="604.7" x2="48.3" y2="604.7" stroke="#333" stroke-width="1.1"/>
<text x="42.3" y="611.6" class="yl">0.2</text>
<line x1="45.2" y1="588.5" x2="48.3" y2="588.5" stroke="#333" stroke-width="1.1"/>
<text x="42.3" y="595.4" class="yl">0.5</text>
<line x1="45.2" y1="572.2" x2="48.3" y2="572.2" stroke="#333" stroke-width="1.1"/>
<text x="42.3" y="579.1" class="yl">0.8</text>
<line x1="45.2" y1="555.9" x2="48.3" y2="555.9" stroke="#333" stroke-width="1.1"/>
<text x="42.3" y="562.8" class="yl">1.0</text>
<text x="679" y="546.0" class="pt">Sandstone</text>
<path d="M76.6 620.7C94.4 620.7 112.2 620.7 130.0 620.6C137.7 620.6 145.4 619.9 153.1 619.4C158.2 619.0 163.4 618.5 168.5 617.8C172.1 617.3 175.8 616.3 179.4 615.5C183.1 614.7 186.7 613.9 190.4 613.2C194.0 612.5 197.7 611.8 201.3 611.2C205.0 610.6 208.6 610.0 212.3 609.6C215.9 609.2 219.6 608.8 223.2 608.6C226.9 608.4 230.5 608.2 234.2 608.2C237.8 608.2 241.5 608.4 245.1 608.4C248.7 608.4 252.4 608.3 256.0 608.2C259.7 608.1 263.3 607.9 267.0 607.6C271.3 607.3 275.7 606.2 280.0 605.5C284.4 604.8 288.7 603.9 293.1 603.2C297.5 602.5 301.9 601.9 306.3 601.2C310.7 600.5 315.0 599.6 319.4 598.8C323.8 598.0 328.2 597.3 332.6 596.2C337.0 595.2 341.3 593.7 345.7 592.2C350.1 590.7 354.4 589.0 358.8 587.4C363.2 585.8 367.6 584.3 372.0 582.6C376.4 580.9 380.7 579.4 385.1 577.4C388.7 575.8 392.4 573.6 396.0 571.8C399.0 570.3 402.0 569.0 405.0 567.3C408.0 565.6 411.0 562.4 414.0 561.3C417.3 560.1 420.7 559.2 424.0 558.8C427.3 558.4 430.7 558.3 434.0 558.0C436.3 557.8 438.7 557.2 441.0 557.2C443.5 557.2 446.0 557.3 448.5 557.4C450.6 557.5 452.8 558.3 454.9 559.0C456.6 559.5 458.3 560.4 460.0 561.2C462.0 562.1 464.0 563.1 466.0 564.2C468.4 565.6 470.9 567.4 473.3 568.8C476.2 570.5 479.1 571.9 482.0 573.6C484.6 575.1 487.3 576.8 489.9 578.5C492.5 580.2 495.2 581.9 497.8 583.7C501.1 586.0 504.3 588.8 507.6 591.0C511.2 593.5 514.9 595.9 518.5 597.7C522.2 599.5 525.8 601.0 529.5 602.1C534.0 603.4 538.6 604.0 543.1 605.2C547.5 606.4 551.9 608.3 556.3 609.6C560.7 610.9 565.0 612.2 569.4 613.3C573.8 614.4 578.2 615.3 582.6 616.1C587.0 616.9 591.3 617.8 595.7 618.3C600.1 618.8 604.4 619.2 608.8 619.4C615.4 619.8 621.9 620.1 628.5 620.2C637.9 620.4 647.2 620.5 656.6 620.6L656.6 621.0L76.6 621.0Z" fill="#c0822e" fill-opacity="0.17"/>
<path d="M76.6 620.7C94.4 620.7 112.2 620.7 130.0 620.6C137.7 620.6 145.4 619.9 153.1 619.4C158.2 619.0 163.4 618.5 168.5 617.8C172.1 617.3 175.8 616.3 179.4 615.5C183.1 614.7 186.7 613.9 190.4 613.2C194.0 612.5 197.7 611.8 201.3 611.2C205.0 610.6 208.6 610.0 212.3 609.6C215.9 609.2 219.6 608.8 223.2 608.6C226.9 608.4 230.5 608.2 234.2 608.2C237.8 608.2 241.5 608.4 245.1 608.4C248.7 608.4 252.4 608.3 256.0 608.2C259.7 608.1 263.3 607.9 267.0 607.6C271.3 607.3 275.7 606.2 280.0 605.5C284.4 604.8 288.7 603.9 293.1 603.2C297.5 602.5 301.9 601.9 306.3 601.2C310.7 600.5 315.0 599.6 319.4 598.8C323.8 598.0 328.2 597.3 332.6 596.2C337.0 595.2 341.3 593.7 345.7 592.2C350.1 590.7 354.4 589.0 358.8 587.4C363.2 585.8 367.6 584.3 372.0 582.6C376.4 580.9 380.7 579.4 385.1 577.4C388.7 575.8 392.4 573.6 396.0 571.8C399.0 570.3 402.0 569.0 405.0 567.3C408.0 565.6 411.0 562.4 414.0 561.3C417.3 560.1 420.7 559.2 424.0 558.8C427.3 558.4 430.7 558.3 434.0 558.0C436.3 557.8 438.7 557.2 441.0 557.2C443.5 557.2 446.0 557.3 448.5 557.4C450.6 557.5 452.8 558.3 454.9 559.0C456.6 559.5 458.3 560.4 460.0 561.2C462.0 562.1 464.0 563.1 466.0 564.2C468.4 565.6 470.9 567.4 473.3 568.8C476.2 570.5 479.1 571.9 482.0 573.6C484.6 575.1 487.3 576.8 489.9 578.5C492.5 580.2 495.2 581.9 497.8 583.7C501.1 586.0 504.3 588.8 507.6 591.0C511.2 593.5 514.9 595.9 518.5 597.7C522.2 599.5 525.8 601.0 529.5 602.1C534.0 603.4 538.6 604.0 543.1 605.2C547.5 606.4 551.9 608.3 556.3 609.6C560.7 610.9 565.0 612.2 569.4 613.3C573.8 614.4 578.2 615.3 582.6 616.1C587.0 616.9 591.3 617.8 595.7 618.3C600.1 618.8 604.4 619.2 608.8 619.4C615.4 619.8 621.9 620.1 628.5 620.2C637.9 620.4 647.2 620.5 656.6 620.6" fill="none" stroke="#000" stroke-width="2.3" stroke-linejoin="round" stroke-dasharray="2.3 6.9" stroke-linecap="round"/>
<path d="M76.6 620.7C94.4 620.7 112.2 620.7 130.0 620.6C137.7 620.6 145.4 620.1 153.1 619.6C158.2 619.3 163.4 619.0 168.5 618.3C172.1 617.8 175.8 616.6 179.4 615.7C183.1 614.8 186.7 613.7 190.4 612.8C194.0 611.9 197.7 610.9 201.3 610.2C205.0 609.4 208.6 608.7 212.3 608.2C215.9 607.7 219.6 607.2 223.2 607.1C226.9 607.0 230.5 606.9 234.2 606.9C237.8 606.9 241.5 607.4 245.1 607.4C248.7 607.4 252.4 607.4 256.0 607.4C259.7 607.4 263.3 607.2 267.0 606.9C271.3 606.6 275.7 605.5 280.0 604.8C284.4 604.1 288.7 603.3 293.1 602.6C297.5 601.9 301.9 601.5 306.3 600.8C310.7 600.1 315.0 599.4 319.4 598.6C323.8 597.8 328.2 597.1 332.6 596.0C337.0 595.0 341.3 593.5 345.7 592.0C350.1 590.5 354.4 588.8 358.8 587.2C363.2 585.6 367.6 584.0 372.0 582.4C376.4 580.8 380.7 579.3 385.1 577.4C388.7 575.8 392.4 573.7 396.0 571.9C399.0 570.4 402.0 569.2 405.0 567.5C408.0 565.8 411.0 562.6 414.0 561.5C417.3 560.3 420.7 559.4 424.0 559.0C427.3 558.6 430.7 558.5 434.0 558.2C436.3 558.0 438.7 557.3 441.0 557.3C443.5 557.3 446.0 557.5 448.5 557.7C450.5 557.9 452.4 558.8 454.4 559.6C456.3 560.3 458.1 561.4 460.0 562.4C462.5 563.7 465.1 564.9 467.6 566.7C469.2 567.9 470.9 569.9 472.5 571.3C474.5 573.0 476.5 574.5 478.5 575.9C480.8 577.5 483.2 578.8 485.5 580.4C488.1 582.2 490.8 584.7 493.4 586.5C496.7 588.8 499.9 590.6 503.2 592.7C506.9 595.1 510.5 597.7 514.2 599.9C517.8 602.1 521.5 604.1 525.1 605.8C528.7 607.5 532.4 609.0 536.0 610.2C539.7 611.4 543.3 612.3 547.0 613.1C550.6 613.9 554.3 614.6 557.9 615.3C561.7 616.1 565.6 617.1 569.4 617.7C573.8 618.4 578.2 619.0 582.6 619.4C587.0 619.8 591.3 620.3 595.7 620.3C616.0 620.5 636.3 620.5 656.6 620.6L656.6 621.0L76.6 621.0Z" fill="#c0822e" fill-opacity="0.50"/>
<path d="M76.6 620.7C94.4 620.7 112.2 620.7 130.0 620.6C137.7 620.6 145.4 620.1 153.1 619.6C158.2 619.3 163.4 619.0 168.5 618.3C172.1 617.8 175.8 616.6 179.4 615.7C183.1 614.8 186.7 613.7 190.4 612.8C194.0 611.9 197.7 610.9 201.3 610.2C205.0 609.4 208.6 608.7 212.3 608.2C215.9 607.7 219.6 607.2 223.2 607.1C226.9 607.0 230.5 606.9 234.2 606.9C237.8 606.9 241.5 607.4 245.1 607.4C248.7 607.4 252.4 607.4 256.0 607.4C259.7 607.4 263.3 607.2 267.0 606.9C271.3 606.6 275.7 605.5 280.0 604.8C284.4 604.1 288.7 603.3 293.1 602.6C297.5 601.9 301.9 601.5 306.3 600.8C310.7 600.1 315.0 599.4 319.4 598.6C323.8 597.8 328.2 597.1 332.6 596.0C337.0 595.0 341.3 593.5 345.7 592.0C350.1 590.5 354.4 588.8 358.8 587.2C363.2 585.6 367.6 584.0 372.0 582.4C376.4 580.8 380.7 579.3 385.1 577.4C388.7 575.8 392.4 573.7 396.0 571.9C399.0 570.4 402.0 569.2 405.0 567.5C408.0 565.8 411.0 562.6 414.0 561.5C417.3 560.3 420.7 559.4 424.0 559.0C427.3 558.6 430.7 558.5 434.0 558.2C436.3 558.0 438.7 557.3 441.0 557.3C443.5 557.3 446.0 557.5 448.5 557.7C450.5 557.9 452.4 558.8 454.4 559.6C456.3 560.3 458.1 561.4 460.0 562.4C462.5 563.7 465.1 564.9 467.6 566.7C469.2 567.9 470.9 569.9 472.5 571.3C474.5 573.0 476.5 574.5 478.5 575.9C480.8 577.5 483.2 578.8 485.5 580.4C488.1 582.2 490.8 584.7 493.4 586.5C496.7 588.8 499.9 590.6 503.2 592.7C506.9 595.1 510.5 597.7 514.2 599.9C517.8 602.1 521.5 604.1 525.1 605.8C528.7 607.5 532.4 609.0 536.0 610.2C539.7 611.4 543.3 612.3 547.0 613.1C550.6 613.9 554.3 614.6 557.9 615.3C561.7 616.1 565.6 617.1 569.4 617.7C573.8 618.4 578.2 619.0 582.6 619.4C587.0 619.8 591.3 620.3 595.7 620.3C616.0 620.5 636.3 620.5 656.6 620.6" fill="none" stroke="#000" stroke-width="2.3" stroke-linejoin="round" stroke-dasharray="9.2 9.2" stroke-linecap="round"/>
<path d="M76.6 620.6C117.7 620.6 158.9 620.6 200.0 620.6C216.7 620.6 233.3 620.6 250.0 620.5C255.7 620.5 261.3 620.4 267.0 620.3C271.3 620.2 275.7 619.0 280.0 618.3C284.4 617.6 288.7 616.1 293.1 616.1C297.5 616.1 301.9 616.8 306.3 616.8C310.7 616.8 315.0 616.0 319.4 615.3C323.8 614.6 328.2 612.0 332.6 612.0C337.0 612.0 341.3 612.8 345.7 613.1C350.1 613.4 354.4 613.9 358.8 613.9C362.5 613.9 366.1 613.2 369.8 612.4C372.7 611.7 375.6 609.6 378.5 607.4C381.4 605.1 384.4 601.3 387.3 597.1C389.5 593.9 391.7 589.2 393.9 585.0C396.1 580.8 398.2 575.8 400.4 571.9C402.6 568.0 404.8 563.5 407.0 561.4C409.2 559.3 411.4 557.6 413.6 557.0C416.5 556.2 419.4 555.5 422.3 555.5C425.9 555.5 429.5 556.0 433.1 556.4C436.8 556.8 440.4 557.3 444.1 558.3C447.0 559.1 449.9 560.8 452.8 563.1C455.0 564.9 457.2 568.7 459.4 571.9C461.6 575.1 463.8 579.0 466.0 582.8C468.2 586.6 470.4 591.3 472.6 594.9C474.8 598.5 476.9 602.1 479.1 604.7C481.3 607.3 483.5 610.1 485.7 611.3C488.6 612.9 491.5 614.1 494.4 614.6C498.1 615.2 501.7 615.2 505.4 615.7C508.3 616.1 511.3 616.8 514.2 617.4C517.8 618.1 521.5 619.3 525.1 619.6C530.2 620.1 535.3 620.5 540.4 620.5C579.1 620.6 617.9 620.6 656.6 620.6L656.6 621.0L76.6 621.0Z" fill="#c0822e"/>
<path d="M76.6 620.6C117.7 620.6 158.9 620.6 200.0 620.6C216.7 620.6 233.3 620.6 250.0 620.5C255.7 620.5 261.3 620.4 267.0 620.3C271.3 620.2 275.7 619.0 280.0 618.3C284.4 617.6 288.7 616.1 293.1 616.1C297.5 616.1 301.9 616.8 306.3 616.8C310.7 616.8 315.0 616.0 319.4 615.3C323.8 614.6 328.2 612.0 332.6 612.0C337.0 612.0 341.3 612.8 345.7 613.1C350.1 613.4 354.4 613.9 358.8 613.9C362.5 613.9 366.1 613.2 369.8 612.4C372.7 611.7 375.6 609.6 378.5 607.4C381.4 605.1 384.4 601.3 387.3 597.1C389.5 593.9 391.7 589.2 393.9 585.0C396.1 580.8 398.2 575.8 400.4 571.9C402.6 568.0 404.8 563.5 407.0 561.4C409.2 559.3 411.4 557.6 413.6 557.0C416.5 556.2 419.4 555.5 422.3 555.5C425.9 555.5 429.5 556.0 433.1 556.4C436.8 556.8 440.4 557.3 444.1 558.3C447.0 559.1 449.9 560.8 452.8 563.1C455.0 564.9 457.2 568.7 459.4 571.9C461.6 575.1 463.8 579.0 466.0 582.8C468.2 586.6 470.4 591.3 472.6 594.9C474.8 598.5 476.9 602.1 479.1 604.7C481.3 607.3 483.5 610.1 485.7 611.3C488.6 612.9 491.5 614.1 494.4 614.6C498.1 615.2 501.7 615.2 505.4 615.7C508.3 616.1 511.3 616.8 514.2 617.4C517.8 618.1 521.5 619.3 525.1 619.6C530.2 620.1 535.3 620.5 540.4 620.5C579.1 620.6 617.9 620.6 656.6 620.6" fill="none" stroke="#000" stroke-width="2.3" stroke-linejoin="round" stroke-linecap="round"/>
<line x1="48.3" y1="658.3" x2="48.3" y2="730.0" stroke="#333" stroke-width="1.1"/>
<line x1="45.2" y1="726.7" x2="48.3" y2="726.7" stroke="#333" stroke-width="1.1"/>
<text x="42.3" y="733.6" class="yl">0.0</text>
<line x1="45.2" y1="710.4" x2="48.3" y2="710.4" stroke="#333" stroke-width="1.1"/>
<text x="42.3" y="717.3" class="yl">0.2</text>
<line x1="45.2" y1="694.2" x2="48.3" y2="694.2" stroke="#333" stroke-width="1.1"/>
<text x="42.3" y="701.1" class="yl">0.5</text>
<line x1="45.2" y1="677.9" x2="48.3" y2="677.9" stroke="#333" stroke-width="1.1"/>
<text x="42.3" y="684.8" class="yl">0.8</text>
<line x1="45.2" y1="661.6" x2="48.3" y2="661.6" stroke="#333" stroke-width="1.1"/>
<text x="42.3" y="668.5" class="yl">1.0</text>
<text x="679" y="651.7" class="pt">Kerangas</text>
<path d="M76.6 726.4C97.7 726.2 118.9 726.3 140.0 725.8C144.4 725.7 148.7 724.6 153.1 724.1C159.7 723.3 166.2 722.5 172.8 721.9C178.7 721.4 184.5 720.8 190.4 720.6C197.0 720.4 203.5 720.3 210.1 720.2C215.9 720.1 221.8 720.1 227.6 720.0C230.5 719.9 233.4 719.6 236.3 719.3C239.2 719.0 242.2 718.7 245.1 718.1C248.0 717.5 251.0 716.2 253.9 714.7C256.8 713.3 259.7 710.8 262.6 708.6C265.5 706.4 268.5 703.1 271.4 701.6C274.3 700.1 277.2 698.6 280.1 698.3C283.7 697.9 287.3 698.0 290.9 697.7C294.6 697.4 298.2 696.5 301.9 695.5C305.5 694.5 309.2 692.4 312.8 691.1C316.5 689.8 320.1 688.5 323.8 687.4C327.4 686.3 331.1 685.8 334.7 684.5C337.6 683.4 340.6 681.7 343.5 679.7C346.4 677.7 349.4 673.8 352.3 671.4C355.2 669.1 358.1 666.6 361.0 665.3C363.3 664.3 365.7 663.4 368.0 663.0C370.8 662.5 373.5 662.4 376.3 662.0C379.2 661.6 382.2 660.6 385.1 660.6C388.0 660.6 391.0 661.4 393.9 662.2C396.8 663.0 399.7 665.6 402.6 667.8C405.5 670.0 408.5 672.7 411.4 675.5C414.3 678.3 417.2 682.5 420.1 684.9C423.7 687.9 427.3 689.8 430.9 692.1C434.6 694.4 438.2 696.6 441.9 698.7C445.5 700.8 449.2 702.8 452.8 704.6C456.5 706.4 460.1 708.0 463.8 709.6C467.4 711.2 471.1 712.7 474.7 714.0C478.4 715.3 482.0 716.6 485.7 717.7C489.3 718.8 493.0 719.9 496.6 720.8C500.3 721.7 503.9 722.4 507.6 723.0C511.2 723.6 514.9 724.2 518.5 724.5C525.7 725.1 532.8 725.7 540.0 725.8C578.9 726.1 617.7 726.1 656.6 726.2L656.6 726.7L76.6 726.7Z" fill="#e0c283" fill-opacity="0.17"/>
<path d="M76.6 726.4C97.7 726.2 118.9 726.3 140.0 725.8C144.4 725.7 148.7 724.6 153.1 724.1C159.7 723.3 166.2 722.5 172.8 721.9C178.7 721.4 184.5 720.8 190.4 720.6C197.0 720.4 203.5 720.3 210.1 720.2C215.9 720.1 221.8 720.1 227.6 720.0C230.5 719.9 233.4 719.6 236.3 719.3C239.2 719.0 242.2 718.7 245.1 718.1C248.0 717.5 251.0 716.2 253.9 714.7C256.8 713.3 259.7 710.8 262.6 708.6C265.5 706.4 268.5 703.1 271.4 701.6C274.3 700.1 277.2 698.6 280.1 698.3C283.7 697.9 287.3 698.0 290.9 697.7C294.6 697.4 298.2 696.5 301.9 695.5C305.5 694.5 309.2 692.4 312.8 691.1C316.5 689.8 320.1 688.5 323.8 687.4C327.4 686.3 331.1 685.8 334.7 684.5C337.6 683.4 340.6 681.7 343.5 679.7C346.4 677.7 349.4 673.8 352.3 671.4C355.2 669.1 358.1 666.6 361.0 665.3C363.3 664.3 365.7 663.4 368.0 663.0C370.8 662.5 373.5 662.4 376.3 662.0C379.2 661.6 382.2 660.6 385.1 660.6C388.0 660.6 391.0 661.4 393.9 662.2C396.8 663.0 399.7 665.6 402.6 667.8C405.5 670.0 408.5 672.7 411.4 675.5C414.3 678.3 417.2 682.5 420.1 684.9C423.7 687.9 427.3 689.8 430.9 692.1C434.6 694.4 438.2 696.6 441.9 698.7C445.5 700.8 449.2 702.8 452.8 704.6C456.5 706.4 460.1 708.0 463.8 709.6C467.4 711.2 471.1 712.7 474.7 714.0C478.4 715.3 482.0 716.6 485.7 717.7C489.3 718.8 493.0 719.9 496.6 720.8C500.3 721.7 503.9 722.4 507.6 723.0C511.2 723.6 514.9 724.2 518.5 724.5C525.7 725.1 532.8 725.7 540.0 725.8C578.9 726.1 617.7 726.1 656.6 726.2" fill="none" stroke="#000" stroke-width="2.3" stroke-linejoin="round" stroke-dasharray="2.3 6.9" stroke-linecap="round"/>
<path d="M76.6 726.4C97.7 726.2 118.9 726.3 140.0 725.8C144.4 725.7 148.7 724.8 153.1 724.3C159.7 723.6 166.2 722.7 172.8 722.1C178.7 721.6 184.5 721.0 190.4 720.8C197.0 720.6 203.5 720.5 210.1 720.4C215.9 720.3 221.8 720.3 227.6 720.2C230.5 720.1 233.4 719.8 236.3 719.5C239.2 719.2 242.2 718.9 245.1 718.3C248.0 717.7 251.0 716.4 253.9 714.9C256.8 713.5 259.7 711.0 262.6 708.8C265.5 706.6 268.5 703.3 271.4 701.8C274.3 700.3 277.2 698.8 280.1 698.5C283.7 698.1 287.3 698.2 290.9 697.9C294.6 697.6 298.2 696.7 301.9 695.7C305.5 694.7 309.2 692.6 312.8 691.3C316.5 690.0 320.1 688.7 323.8 687.6C327.4 686.5 331.1 686.0 334.7 684.7C337.6 683.6 340.6 681.9 343.5 679.9C346.4 677.9 349.4 674.0 352.3 671.6C355.2 669.3 358.1 666.8 361.0 665.5C363.3 664.5 365.7 663.6 368.0 663.2C370.8 662.7 373.5 662.6 376.3 662.2C379.2 661.8 382.2 660.8 385.1 660.8C388.0 660.8 391.0 661.7 393.9 662.6C396.8 663.5 399.7 666.4 402.6 668.7C405.5 671.0 408.5 673.7 411.4 676.8C414.3 679.8 417.2 684.6 420.1 687.2C423.7 690.5 427.3 692.7 430.9 695.0C434.6 697.4 438.2 699.4 441.9 701.5C445.5 703.6 449.2 705.7 452.8 707.5C456.5 709.3 460.1 711.1 463.8 712.5C467.4 713.9 471.1 715.0 474.7 716.2C478.4 717.4 482.0 718.5 485.7 719.5C489.3 720.5 493.0 721.4 496.6 722.1C500.3 722.8 503.9 723.4 507.6 723.9C511.2 724.4 514.9 725.0 518.5 725.2C525.7 725.6 532.8 726.0 540.0 726.0C578.9 726.2 617.7 726.1 656.6 726.2L656.6 726.7L76.6 726.7Z" fill="#e0c283" fill-opacity="0.50"/>
<path d="M76.6 726.4C97.7 726.2 118.9 726.3 140.0 725.8C144.4 725.7 148.7 724.8 153.1 724.3C159.7 723.6 166.2 722.7 172.8 722.1C178.7 721.6 184.5 721.0 190.4 720.8C197.0 720.6 203.5 720.5 210.1 720.4C215.9 720.3 221.8 720.3 227.6 720.2C230.5 720.1 233.4 719.8 236.3 719.5C239.2 719.2 242.2 718.9 245.1 718.3C248.0 717.7 251.0 716.4 253.9 714.9C256.8 713.5 259.7 711.0 262.6 708.8C265.5 706.6 268.5 703.3 271.4 701.8C274.3 700.3 277.2 698.8 280.1 698.5C283.7 698.1 287.3 698.2 290.9 697.9C294.6 697.6 298.2 696.7 301.9 695.7C305.5 694.7 309.2 692.6 312.8 691.3C316.5 690.0 320.1 688.7 323.8 687.6C327.4 686.5 331.1 686.0 334.7 684.7C337.6 683.6 340.6 681.9 343.5 679.9C346.4 677.9 349.4 674.0 352.3 671.6C355.2 669.3 358.1 666.8 361.0 665.5C363.3 664.5 365.7 663.6 368.0 663.2C370.8 662.7 373.5 662.6 376.3 662.2C379.2 661.8 382.2 660.8 385.1 660.8C388.0 660.8 391.0 661.7 393.9 662.6C396.8 663.5 399.7 666.4 402.6 668.7C405.5 671.0 408.5 673.7 411.4 676.8C414.3 679.8 417.2 684.6 420.1 687.2C423.7 690.5 427.3 692.7 430.9 695.0C434.6 697.4 438.2 699.4 441.9 701.5C445.5 703.6 449.2 705.7 452.8 707.5C456.5 709.3 460.1 711.1 463.8 712.5C467.4 713.9 471.1 715.0 474.7 716.2C478.4 717.4 482.0 718.5 485.7 719.5C489.3 720.5 493.0 721.4 496.6 722.1C500.3 722.8 503.9 723.4 507.6 723.9C511.2 724.4 514.9 725.0 518.5 725.2C525.7 725.6 532.8 726.0 540.0 726.0C578.9 726.2 617.7 726.1 656.6 726.2" fill="none" stroke="#000" stroke-width="2.3" stroke-linejoin="round" stroke-dasharray="9.2 9.2" stroke-linecap="round"/>
<path d="M76.6 726.3C97.7 726.1 118.9 725.6 140.0 725.6C147.3 725.6 154.6 726.0 161.9 726.0C169.2 726.0 176.5 725.8 183.8 725.6C191.1 725.4 198.4 724.5 205.7 723.9C211.5 723.4 217.4 722.7 223.2 722.1C227.6 721.6 231.9 721.4 236.3 720.6C239.2 720.1 242.2 718.6 245.1 717.3C248.0 716.0 251.0 714.6 253.9 712.9C256.8 711.2 259.7 709.0 262.6 706.8C265.5 704.6 268.5 701.3 271.4 699.8C274.3 698.3 277.2 696.8 280.1 696.5C283.7 696.1 287.3 696.2 290.9 695.9C294.6 695.6 298.2 694.7 301.9 693.7C305.5 692.7 309.2 690.6 312.8 689.3C316.5 688.0 320.1 686.7 323.8 685.6C327.4 684.5 331.1 684.0 334.7 682.7C337.6 681.6 340.6 679.9 343.5 677.9C346.4 675.9 349.4 672.1 352.3 669.6C355.2 667.2 358.1 664.0 361.0 663.0C363.2 662.2 365.4 661.5 367.6 661.5C370.5 661.5 373.4 662.6 376.3 663.7C379.2 664.8 382.2 667.7 385.1 670.2C388.0 672.7 391.0 676.0 393.9 679.0C396.8 682.0 399.7 685.1 402.6 688.4C405.5 691.7 408.5 695.4 411.4 698.7C414.3 702.0 417.2 705.4 420.1 708.1C423.0 710.8 425.9 713.2 428.8 715.1C431.7 717.0 434.6 718.7 437.5 719.9C441.2 721.4 444.8 722.6 448.5 723.4C452.1 724.2 455.8 724.9 459.4 725.2C464.5 725.7 469.6 726.1 474.7 726.1C535.3 726.2 596.0 726.2 656.6 726.2L656.6 726.7L76.6 726.7Z" fill="#e0c283"/>
<path d="M76.6 726.3C97.7 726.1 118.9 725.6 140.0 725.6C147.3 725.6 154.6 726.0 161.9 726.0C169.2 726.0 176.5 725.8 183.8 725.6C191.1 725.4 198.4 724.5 205.7 723.9C211.5 723.4 217.4 722.7 223.2 722.1C227.6 721.6 231.9 721.4 236.3 720.6C239.2 720.1 242.2 718.6 245.1 717.3C248.0 716.0 251.0 714.6 253.9 712.9C256.8 711.2 259.7 709.0 262.6 706.8C265.5 704.6 268.5 701.3 271.4 699.8C274.3 698.3 277.2 696.8 280.1 696.5C283.7 696.1 287.3 696.2 290.9 695.9C294.6 695.6 298.2 694.7 301.9 693.7C305.5 692.7 309.2 690.6 312.8 689.3C316.5 688.0 320.1 686.7 323.8 685.6C327.4 684.5 331.1 684.0 334.7 682.7C337.6 681.6 340.6 679.9 343.5 677.9C346.4 675.9 349.4 672.1 352.3 669.6C355.2 667.2 358.1 664.0 361.0 663.0C363.2 662.2 365.4 661.5 367.6 661.5C370.5 661.5 373.4 662.6 376.3 663.7C379.2 664.8 382.2 667.7 385.1 670.2C388.0 672.7 391.0 676.0 393.9 679.0C396.8 682.0 399.7 685.1 402.6 688.4C405.5 691.7 408.5 695.4 411.4 698.7C414.3 702.0 417.2 705.4 420.1 708.1C423.0 710.8 425.9 713.2 428.8 715.1C431.7 717.0 434.6 718.7 437.5 719.9C441.2 721.4 444.8 722.6 448.5 723.4C452.1 724.2 455.8 724.9 459.4 725.2C464.5 725.7 469.6 726.1 474.7 726.1C535.3 726.2 596.0 726.2 656.6 726.2" fill="none" stroke="#000" stroke-width="2.3" stroke-linejoin="round" stroke-linecap="round"/>
<line x1="47.8" y1="729.9" x2="685" y2="729.9" stroke="#333" stroke-width="1.1"/>
<line x1="72.4" y1="729.9" x2="72.4" y2="732.8" stroke="#333" stroke-width="1.1"/>
<text x="72.6" y="748.6" class="xl">0</text>
<line x1="223.1" y1="729.9" x2="223.1" y2="732.8" stroke="#333" stroke-width="1.1"/>
<text x="223.3" y="748.6" class="xl">100</text>
<line x1="374.0" y1="729.9" x2="374.0" y2="732.8" stroke="#333" stroke-width="1.1"/>
<text x="374.2" y="748.6" class="xl">200</text>
<line x1="525.5" y1="729.9" x2="525.5" y2="732.8" stroke="#333" stroke-width="1.1"/>
<text x="525.7" y="748.6" class="xl">300</text>
<line x1="676.0" y1="729.9" x2="676.0" y2="732.8" stroke="#333" stroke-width="1.1"/>
<text x="676.2" y="748.6" class="xl">400</text>
<text x="266.5" y="768.9" class="xt" textLength="125" lengthAdjust="spacingAndGlyphs">Aboveground carbon</text>
<path d="M400 757.3Q394.2 765.2 400 773" fill="none" stroke="#111" stroke-width="1.05"/>
<text x="400.8" y="768.9" class="xt" textLength="49.6" lengthAdjust="spacingAndGlyphs">Mg C ha</text>
<text x="450.4" y="761.8" class="sup">−1</text>
<path d="M461.4 757.3Q467.2 765.2 461.4 773" fill="none" stroke="#111" stroke-width="1.05"/>
<text transform="translate(12.9 377.3) rotate(-90)" class="ft">Frequency</text>
<text x="-0.5" y="9.5" class="lab" style="font-size:16.3px">a</text>
<rect x="118.9" y="796.9" width="17.9" height="22.8" fill="#f0f0f0" stroke="#000" stroke-width="2" stroke-dasharray="4.4 4.8"/>
<rect x="118.9" y="822.9" width="17.9" height="22.8" fill="#f0f0f0" stroke="#000" stroke-width="2" stroke-dasharray="11.3 7.2" stroke-dashoffset="1"/>
<rect x="456.8" y="796.8" width="18.2" height="22.6" fill="#f0f0f0" stroke="#000" stroke-width="2"/>
<text x="144.3" y="813.7" class="lg" textLength="90.4" lengthAdjust="spacingAndGlyphs">Cluster area</text>
<path d="M245.8 800.8Q237.6 809.3 245.8 817.8" fill="none" stroke="#111" stroke-width="1.1"/>
<text x="246.8" y="813.7" class="lg">Danum</text>
<text x="306" y="813.7" class="lg" font-style="italic">k</text>
<text x="318.5" y="813.7" class="lg">=1,</text>
<text x="350.8" y="813.7" class="lg">Sepilok</text>
<text x="411.2" y="813.7" class="lg" font-style="italic">k</text>
<text x="424.4" y="813.7" class="lg">=3</text>
<path d="M445.2 800.8Q453 809.3 445.2 817.8" fill="none" stroke="#111" stroke-width="1.1"/>
<text x="144.3" y="839.3" class="lg" textLength="90.4" lengthAdjust="spacingAndGlyphs">Cluster area</text>
<path d="M245.8 826.4Q237.6 834.9 245.8 843.4" fill="none" stroke="#111" stroke-width="1.1"/>
<text x="246.8" y="839.3" class="lg">Danum</text>
<text x="306" y="839.3" class="lg" font-style="italic">k</text>
<text x="318.5" y="839.3" class="lg">=3,</text>
<text x="350.8" y="839.3" class="lg">Sepilok</text>
<text x="411.2" y="839.3" class="lg" font-style="italic">k</text>
<text x="424.4" y="839.3" class="lg">=4</text>
<path d="M445.2 826.4Q453 834.9 445.2 843.4" fill="none" stroke="#111" stroke-width="1.1"/>
<text x="483" y="813.7" class="lg" textLength="137" lengthAdjust="spacingAndGlyphs">Inventory plot area</text>
<line x1="63.4" y1="867.2" x2="63.4" y2="1223" stroke="#333" stroke-width="1.1"/>
<line x1="62.9" y1="1222.5" x2="685" y2="1222.5" stroke="#333" stroke-width="1.1"/>
<line x1="59.9" y1="883.4" x2="63.4" y2="883.4" stroke="#333" stroke-width="1.1"/>
<text x="57.4" y="889.0" class="yb">0.025</text>
<line x1="59.9" y1="963.9" x2="63.4" y2="963.9" stroke="#333" stroke-width="1.1"/>
<text x="57.4" y="969.5" class="yb">0.020</text>
<line x1="59.9" y1="1044.3" x2="63.4" y2="1044.3" stroke="#333" stroke-width="1.1"/>
<text x="57.4" y="1049.9" class="yb">0.015</text>
<line x1="59.9" y1="1124.8" x2="63.4" y2="1124.8" stroke="#333" stroke-width="1.1"/>
<text x="57.4" y="1130.3" class="yb">0.010</text>
<line x1="59.9" y1="1205.2" x2="63.4" y2="1205.2" stroke="#333" stroke-width="1.1"/>
<text x="57.4" y="1210.8" class="yb">0.005</text>
<text transform="translate(13.6 1044.5) rotate(-90)" class="gt">Growth &amp; mortality rates</text>
<text x="0" y="880.1" class="lab">b</text>
<line x1="152.0" y1="1222.5" x2="152.0" y2="1226" stroke="#333" stroke-width="1.1"/>
<text transform="translate(156.2 1240.5) rotate(-20)" class="cx">Danum</text>
<line x1="300.5" y1="1222.5" x2="300.5" y2="1226" stroke="#333" stroke-width="1.1"/>
<text transform="translate(304.7 1240.5) rotate(-20)" class="cx">Alluvial</text>
<line x1="448.0" y1="1222.5" x2="448.0" y2="1226" stroke="#333" stroke-width="1.1"/>
<text transform="translate(452.2 1240.5) rotate(-20)" class="cx">Sandstone</text>
<line x1="596.0" y1="1222.5" x2="596.0" y2="1226" stroke="#333" stroke-width="1.1"/>
<text transform="translate(600.2 1240.5) rotate(-20)" class="cx">Kerangas</text>
<text x="123.1" y="889" class="le">a</text>
<text x="181.6" y="889" class="le">a</text>
<text x="270.7" y="889" class="le">a</text>
<text x="329.7" y="889" class="le">b</text>
<text x="418.4" y="889" class="le">b</text>
<text x="477.6" y="889" class="le">b</text>
<text x="566.4" y="889" class="le">c</text>
<text x="625.7" y="889" class="le">c</text>
<line x1="123.1" y1="906.9" x2="123.1" y2="968.5" stroke="#000" stroke-width="1.2"/>
<circle cx="123.1" cy="939.4" r="5.6" fill="#000"/>
<line x1="270.7" y1="909.0" x2="270.7" y2="981.5" stroke="#000" stroke-width="1.2"/>
<circle cx="270.7" cy="946.0" r="5.6" fill="#000"/>
<line x1="418.4" y1="1057.2" x2="418.4" y2="1116.5" stroke="#000" stroke-width="1.2"/>
<circle cx="418.4" cy="1089.5" r="5.6" fill="#000"/>
<line x1="566.4" y1="994.3" x2="566.4" y2="1042.6" stroke="#000" stroke-width="1.2"/>
<circle cx="566.4" cy="1016.5" r="5.6" fill="#000"/>
<circle cx="181.8" cy="992.8" r="5.4" fill="#d3d3d3" stroke="#555" stroke-width="0.9"/>
<line x1="181.8" y1="989.5" x2="181.8" y2="996.1" stroke="#222" stroke-width="1.2"/>
<circle cx="330.0" cy="1124.7" r="5.4" fill="#d3d3d3" stroke="#555" stroke-width="0.9"/>
<line x1="330.0" y1="1120.3" x2="330.0" y2="1129.1" stroke="#222" stroke-width="1.2"/>
<circle cx="477.8" cy="1203.8" r="5.4" fill="#d3d3d3" stroke="#555" stroke-width="0.9"/>
<line x1="477.8" y1="1200.8" x2="477.8" y2="1206.8" stroke="#222" stroke-width="1.2"/>
<circle cx="626.0" cy="1141.0" r="5.4" fill="#d3d3d3" stroke="#555" stroke-width="0.9"/>
<line x1="626.0" y1="1139.0" x2="626.0" y2="1143.0" stroke="#222" stroke-width="1.2"/>
<circle cx="92.7" cy="1124.7" r="6.6" fill="#d3d3d3" stroke="#444" stroke-width="0.9"/>
<circle cx="92.7" cy="1157.2" r="6.9" fill="#000"/>
<text x="108.1" y="1130.1" class="lb">Annual relative growth rate</text>
<text x="108.1" y="1162.6" class="lb">Annual mortality rate</text>
</svg></body></html>
